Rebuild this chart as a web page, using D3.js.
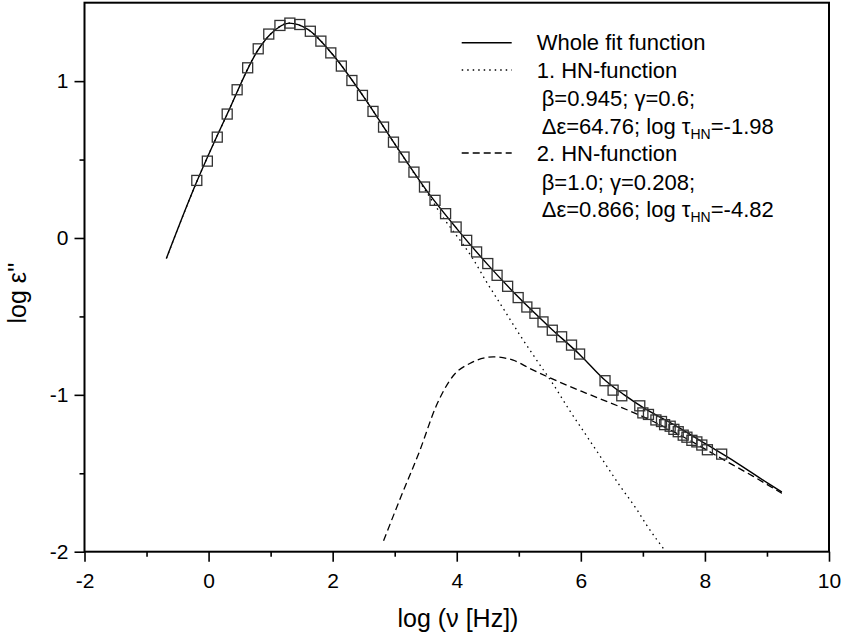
<!DOCTYPE html>
<html>
<head>
<meta charset="utf-8">
<script src="https://cdn.jsdelivr.net/npm/d3@7"></script>
<style>
  body { margin: 0; background: #fff; }
  text { font-family: "Liberation Sans", Arial, Helvetica, sans-serif; fill: #000; }
</style>
</head>
<body>
<script>
// measured points: log frequency vs log eps''
var logNu = [-0.19, -0.02, 0.14, 0.30, 0.46, 0.63, 0.80, 0.97, 1.15, 1.31, 1.47, 1.64, 1.81, 1.97,
  2.14, 2.31, 2.48, 2.65, 2.82, 2.98, 3.15, 3.31, 3.48, 3.65, 3.82, 3.99, 4.16, 4.32, 4.50, 4.65,
  4.82, 4.99, 5.13, 5.26, 5.39, 5.54, 5.69, 5.85, 5.98, 6.39, 6.52, 6.66, 6.95, 7.00, 7.09, 7.21,
  7.30, 7.35, 7.44, 7.50, 7.57, 7.65, 7.71, 7.79, 7.87, 7.95, 8.04, 8.27];
var logEps = [0.367, 0.49, 0.643, 0.79, 0.945, 1.085, 1.206, 1.30, 1.355, 1.37, 1.361, 1.318, 1.255, 1.18,
  1.096, 1.004, 0.909, 0.807, 0.707, 0.611, 0.516, 0.42, 0.325, 0.24, 0.155, 0.07, -0.015, -0.089, -0.163, -0.238,
  -0.308, -0.38, -0.44, -0.48, -0.535, -0.588, -0.63, -0.683, -0.74, -0.91, -0.97, -1.006, -1.07, -1.115, -1.125, -1.16,
  -1.17, -1.19, -1.20, -1.22, -1.235, -1.257, -1.27, -1.29, -1.30, -1.32, -1.35, -1.378];

// whole fit function
var fitX = [-0.68, -0.2, 0.3, 0.8, 1.0, 1.3, 1.6, 2.0, 2.5, 3.0, 3.5, 4.0, 4.5, 5.0, 5.5, 6.0, 6.4, 6.7, 7.0, 7.5, 8.0, 8.5, 9.0, 9.24];
var fitY = [-0.13, 0.35, 0.79, 1.2, 1.3, 1.37, 1.33, 1.17, 0.9, 0.6, 0.31, 0.06, -0.17, -0.38, -0.57, -0.75, -0.91, -1.0, -1.08, -1.19, -1.31, -1.43, -1.56, -1.62];

// 1. HN-function
var hn1X = [-0.68, -0.2, 0.3, 0.8, 1.0, 1.3, 1.6, 2.0, 2.5, 3.0, 3.5, 3.8, 4.1, 4.24, 4.48, 4.75, 5.02, 5.29, 5.55, 5.82, 6.09, 6.36, 6.63, 6.9, 7.06, 7.37];
var hn1Y = [-0.13, 0.35, 0.79, 1.2, 1.3, 1.37, 1.33, 1.17, 0.9, 0.6, 0.3, 0.12, -0.04, -0.12, -0.28, -0.45, -0.62, -0.78, -0.93, -1.1, -1.26, -1.42, -1.58, -1.73, -1.83, -2.0];

// 2. HN-function
var hn2X = [2.82, 3.1, 3.4, 3.67, 3.94, 4.21, 4.59, 4.91, 5.18, 5.55, 6.09, 6.63, 7.17, 7.70, 8.24, 8.78, 9.24];
var hn2Y = [-1.93, -1.65, -1.36, -1.07, -0.88, -0.80, -0.758, -0.779, -0.832, -0.90, -0.99, -1.076, -1.17, -1.278, -1.40, -1.52, -1.628];

var xTicks = [-2, 0, 2, 4, 6, 8, 10];
var xMinor = [-1, 1, 3, 5, 7, 9];
var yTicks = [-2, -1, 0, 1];
var yMinor = [-1.5, -0.5, 0.5];

var width = 845, height = 639;
var mLeft = 84.5, mRight = 829, mTop = 2.7, mBottom = 551.7;

var svg = d3.select('body').append('svg')
  .attr('width', width)
  .attr('height', height);

var x = d3.scaleLinear().domain([-2, 10]).range([mLeft, mRight]);
var y = d3.scaleLinear().domain([-2, 1.5]).range([mBottom, mTop]);

var fmt = function(d) { return String(d); };

// axes with outward ticks
svg.append('g').attr('transform', 'translate(0,' + mBottom + ')')
  .call(d3.axisBottom(x).tickValues(xTicks).tickSize(10).tickPadding(11).tickFormat(fmt));
svg.append('g').attr('transform', 'translate(0,' + mBottom + ')')
  .call(d3.axisBottom(x).tickValues(xMinor).tickSize(5).tickFormat(''));
svg.append('g').attr('transform', 'translate(' + mLeft + ',0)')
  .call(d3.axisLeft(y).tickValues(yTicks).tickSize(10).tickPadding(6).tickFormat(fmt));
svg.append('g').attr('transform', 'translate(' + mLeft + ',0)')
  .call(d3.axisLeft(y).tickValues(yMinor).tickSize(5).tickFormat(''));

svg.selectAll('.domain').remove();
svg.selectAll('.tick line').attr('stroke', '#000').attr('stroke-width', 1.6);
svg.selectAll('.tick text').style('font-size', '21px').attr('fill', '#000');

// frame
svg.append('rect')
  .attr('x', mLeft).attr('y', mTop)
  .attr('width', mRight - mLeft).attr('height', mBottom - mTop)
  .attr('fill', 'none').attr('stroke', '#000').attr('stroke-width', 2);

var line = d3.line().x(function(d) { return x(d[0]); }).y(function(d) { return y(d[1]); })
  .curve(d3.curveMonotoneX);

svg.append('path').datum(d3.zip(hn1X, hn1Y))
  .attr('d', line).attr('fill', 'none').attr('stroke', '#000')
  .attr('stroke-width', 1.3).attr('stroke-dasharray', '1.5,4');

svg.append('path').datum(d3.zip(hn2X, hn2Y))
  .attr('d', line).attr('fill', 'none').attr('stroke', '#000')
  .attr('stroke-width', 1.3).attr('stroke-dasharray', '7,4');

svg.append('path').datum(d3.zip(fitX, fitY))
  .attr('d', line).attr('fill', 'none').attr('stroke', '#000')
  .attr('stroke-width', 1.4);

// measured points as open squares
var sq = 10;
svg.selectAll('rect.pt').data(d3.zip(logNu, logEps)).enter().append('rect')
  .attr('class', 'pt')
  .attr('x', function(d) { return x(d[0]) - sq / 2; })
  .attr('y', function(d) { return y(d[1]) - sq / 2; })
  .attr('width', sq).attr('height', sq)
  .attr('fill', 'none').attr('stroke', '#333').attr('stroke-width', 1.3);

// axis titles
svg.append('text')
  .attr('x', 458).attr('y', 627)
  .attr('text-anchor', 'middle').style('font-size', '25px')
  .text('log (\u03bd [Hz])');

svg.append('text')
  .attr('transform', 'translate(26,293) rotate(-90)')
  .attr('text-anchor', 'middle').style('font-size', '25px')
  .text('log \u03b5\'\'');

// legend
var lg = svg.append('g');
var lx0 = 461.7, lx1 = 511.7, tx = 536.7;
lg.append('line').attr('x1', lx0).attr('x2', lx1).attr('y1', 42.7).attr('y2', 42.7)
  .attr('stroke', '#000').attr('stroke-width', 1.4);
lg.append('line').attr('x1', lx0).attr('x2', lx1).attr('y1', 70).attr('y2', 70)
  .attr('stroke', '#000').attr('stroke-width', 1.3).attr('stroke-dasharray', '1.5,4');
lg.append('line').attr('x1', lx0).attr('x2', lx1).attr('y1', 153).attr('y2', 153)
  .attr('stroke', '#000').attr('stroke-width', 1.3).attr('stroke-dasharray', '7,4');

var legendRows = [
  { y: 42.7, dx: 0, parts: [['Whole fit function']] },
  { y: 70, dx: 0, parts: [['1. HN-function']] },
  { y: 98, dx: 5, parts: [['\u03b2=0.945; \u03b3=0.6;']] },
  { y: 126, dx: 5, parts: [['\u0394\u03b5=64.76; log \u03c4'], ['HN', 'sub'], ['=-1.98']] },
  { y: 153, dx: 0, parts: [['2. HN-function']] },
  { y: 182, dx: 5, parts: [['\u03b2=1.0; \u03b3=0.208;']] },
  { y: 209, dx: 5, parts: [['\u0394\u03b5=0.866; log \u03c4'], ['HN', 'sub'], ['=-4.82']] }
];
legendRows.forEach(function(r) {
  var t = lg.append('text').attr('x', tx + r.dx).attr('y', r.y + 7.5).style('font-size', '22px');
  r.parts.forEach(function(p, i) {
    var s = t.append('tspan').text(p[0]);
    if (p[1] === 'sub') s.attr('dy', 5).style('font-size', '14px');
    else if (i > 0) s.attr('dy', -5);
  });
});
</script>
</body>
</html>
